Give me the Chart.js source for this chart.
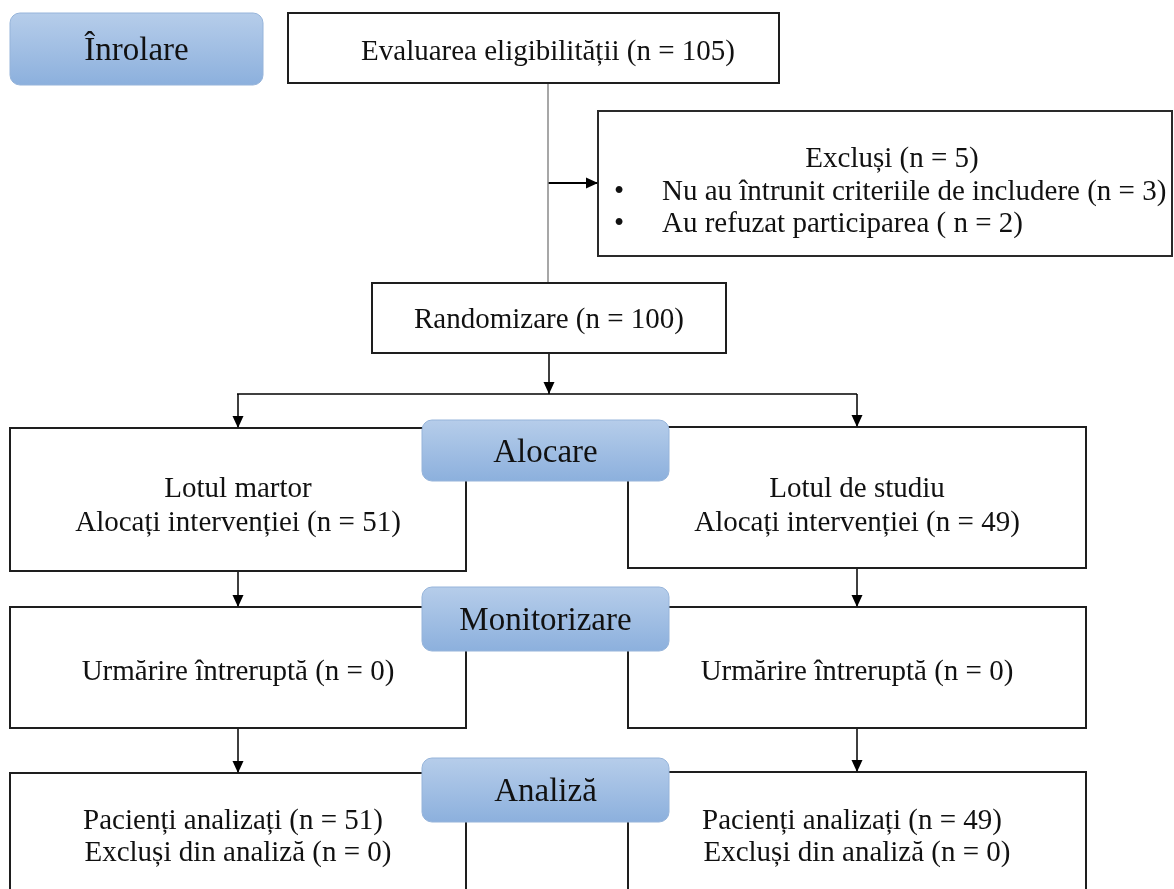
<!DOCTYPE html>
<html>
<head>
<meta charset="utf-8">
<style>
  html, body { margin: 0; padding: 0; background: #ffffff; }
  #wrap { width: 1174px; height: 889px; position: relative; }
</style>
<script src="https://cdn.jsdelivr.net/npm/chart.js@4/dist/chart.umd.min.js"></script>
</head>
<body>
<div id="wrap"><canvas id="c"></canvas></div>
<script>
// ---------------- data ----------------
const stageLabels = ['Înrolare', 'Alocare', 'Monitorizare', 'Analiză'];
const eligibleN = 105;
const excludedReasons = ['Nu au întrunit criteriile de includere', 'Au refuzat participarea'];
const excludedN = [3, 2];
const randomizedN = 100;
const groupNames = ['Lotul martor', 'Lotul de studiu'];
const allocatedN = [51, 49];
const lostN = [0, 0];
const analysedN = [51, 49];
const excludedAnalysisN = [0, 0];

// ---------------- layout (diagram coordinates) ----------------
const layout = {
  enrol: [10, 13, 263, 85],
  elig: [288, 13, 779, 83],
  trunkX: 548,
  excl: [598, 111, 1172, 256],
  exclArrowY: 183,
  rand: [372, 283, 726, 353],
  splitY: 394,
  groupX: [238, 857],
  alloc: [[10, 428, 466, 571], [628, 427, 1086, 568]],
  follow: [[10, 607, 466, 728], [628, 607, 1086, 728]],
  anal: [[10, 773, 466, 905], [628, 772, 1086, 905]],
  stages: [[422, 420, 669, 481], [422, 587, 669, 651], [422, 758, 669, 822]]
};

const BODY = 'Liberation Serif, "Times New Roman", serif';
const BODY_SIZE = 29, LABEL_SIZE = 33;

// connectors derived from layout
const midX = b => (b[0] + b[2]) / 2;
const tx = layout.trunkX;
const connectors = [
  { pts: [[tx, layout.elig[3]], [tx, layout.rand[1]]], color: '#8a8a8a', w: 1.5, arrow: false },
  { pts: [[tx, layout.exclArrowY], [layout.excl[0], layout.exclArrowY]], color: '#000', w: 2, arrow: 'right' },
  { pts: [[midX(layout.rand), layout.rand[3]], [midX(layout.rand), layout.splitY]], color: '#000', w: 1.5, arrow: 'down' },
  { pts: [[layout.groupX[0] - 1, layout.splitY], [layout.groupX[1], layout.splitY]], color: '#000', w: 1.5, arrow: false },
];
[0, 1].forEach(i => {
  const gx = layout.groupX[i];
  connectors.push({ pts: [[gx, layout.splitY], [gx, layout.alloc[i][1]]], color: '#000', w: 1.5, arrow: 'down' });
  connectors.push({ pts: [[gx, layout.alloc[i][3]], [gx, layout.follow[i][1]]], color: '#000', w: 1.5, arrow: 'down' });
  connectors.push({ pts: [[gx, layout.follow[i][3]], [gx, layout.anal[i][1]]], color: '#000', w: 1.5, arrow: 'down' });
});

const datasets = connectors.map(c => ({
  data: c.pts.map(p => ({ x: p[0], y: p[1] })),
  showLine: true,
  borderColor: c.color,
  borderWidth: c.w,
  pointRadius: 0,
  fill: false,
  tension: 0
}));

// ---------------- drawing plugin ----------------
const flowPlugin = {
  id: 'flow',
  afterDatasetsDraw(chart) {
    const ctx = chart.ctx;
    const X = v => chart.scales.x.getPixelForValue(v);
    const Y = v => chart.scales.y.getPixelForValue(v);

    function rectBox(b, lw, color) {
      const x0 = X(b[0]), y0 = Y(b[1]), x1 = X(b[2]), y1 = Y(b[3]);
      ctx.save();
      ctx.fillStyle = '#ffffff';
      ctx.fillRect(x0, y0, x1 - x0, y1 - y0);
      ctx.lineWidth = lw;
      ctx.strokeStyle = color;
      ctx.strokeRect(x0, y0, x1 - x0, y1 - y0);
      ctx.restore();
    }
    function blueBox(b) {
      const x0 = X(b[0]), y0 = Y(b[1]), x1 = X(b[2]), y1 = Y(b[3]);
      const r = 10;
      ctx.save();
      const g = ctx.createLinearGradient(0, y0, 0, y1);
      g.addColorStop(0, '#b6cdea');
      g.addColorStop(1, '#8cb0dd');
      ctx.beginPath();
      ctx.roundRect(x0, y0, x1 - x0, y1 - y0, r);
      ctx.fillStyle = g;
      ctx.fill();
      ctx.lineWidth = 1;
      ctx.strokeStyle = '#96b4da';
      ctx.stroke();
      ctx.restore();
    }
    function text(str, x, y, size, align) {
      ctx.save();
      ctx.font = size + 'px ' + BODY;
      ctx.fillStyle = '#111111';
      ctx.textBaseline = 'alphabetic';
      ctx.textAlign = align || 'center';
      ctx.fillText(str, X(x), Y(y));
      ctx.restore();
    }
    function arrowHead(x, y, dir) {
      const px = X(x), py = Y(y);
      ctx.save();
      ctx.fillStyle = '#000';
      ctx.beginPath();
      if (dir === 'down') {
        ctx.moveTo(px, py); ctx.lineTo(px - 5.5, py - 12); ctx.lineTo(px + 5.5, py - 12);
      } else {
        ctx.moveTo(px, py); ctx.lineTo(px - 12, py - 5.5); ctx.lineTo(px - 12, py + 5.5);
      }
      ctx.closePath();
      ctx.fill();
      ctx.restore();
    }

    // white boxes
    rectBox(layout.elig, 2, '#1e1e1e');
    rectBox(layout.excl, 2, '#2a2a2a');
    rectBox(layout.rand, 2, '#1e1e1e');
    [0, 1].forEach(i => {
      rectBox(layout.alloc[i], 2, '#1e1e1e');
      rectBox(layout.follow[i], 2, '#1e1e1e');
      rectBox(layout.anal[i], 2, '#1e1e1e');
    });

    // stage labels
    blueBox(layout.enrol);
    layout.stages.forEach(b => blueBox(b));
    text(stageLabels[0], midX(layout.enrol), 60, LABEL_SIZE);
    text(stageLabels[1], midX(layout.stages[0]), 462, LABEL_SIZE);
    text(stageLabels[2], midX(layout.stages[1]), 630, LABEL_SIZE);
    text(stageLabels[3], midX(layout.stages[2]), 801, LABEL_SIZE);

    // box texts
    text('Evaluarea eligibilității (n = ' + eligibleN + ')', tx, 60, BODY_SIZE);
    const exclTotal = excludedN.reduce((a, b) => a + b, 0);
    text('Excluși (n = ' + exclTotal + ')', 892, 167, BODY_SIZE);
    text('•', 619, 200, BODY_SIZE);
    text('•', 619, 232, BODY_SIZE);
    text(excludedReasons[0] + ' (n = ' + excludedN[0] + ')', 662, 200, BODY_SIZE, 'left');
    text(excludedReasons[1] + ' ( n = ' + excludedN[1] + ')', 662, 232, BODY_SIZE, 'left');
    text('Randomizare (n = ' + randomizedN + ')', midX(layout.rand), 328, BODY_SIZE);

    const allocY = [[497, 531], [497, 531]];
    const followY = [680, 680];
    const analY = [[829, 861], [829, 861]];
    [0, 1].forEach(i => {
      const gx = layout.groupX[i];
      text(groupNames[i], gx, allocY[i][0], BODY_SIZE);
      text('Alocați intervenției (n = ' + allocatedN[i] + ')', gx, allocY[i][1], BODY_SIZE);
      text('Urmărire întreruptă (n = ' + lostN[i] + ')', gx, followY[i], BODY_SIZE);
      text('Pacienți analizați (n = ' + analysedN[i] + ')', gx - 5, analY[i][0], BODY_SIZE);
      text('Excluși din analiză (n = ' + excludedAnalysisN[i] + ')', gx, analY[i][1], BODY_SIZE);
    });

    // arrowheads
    connectors.forEach(c => {
      if (!c.arrow) return;
      const end = c.pts[c.pts.length - 1];
      arrowHead(end[0], end[1], c.arrow);
    });
  }
};

new Chart(document.getElementById('c'), {
  type: 'scatter',
  data: { datasets },
  options: {
    responsive: true,
    maintainAspectRatio: false,
    devicePixelRatio: 1,
    animation: false,
    layout: { padding: 0 },
    plugins: { legend: { display: false }, tooltip: { enabled: false } },
    events: [],
    scales: {
      x: { type: 'linear', min: 0, max: 1174, display: false },
      y: { type: 'linear', min: 0, max: 889, reverse: true, display: false }
    }
  },
  plugins: [flowPlugin]
});
</script>
</body>
</html>
